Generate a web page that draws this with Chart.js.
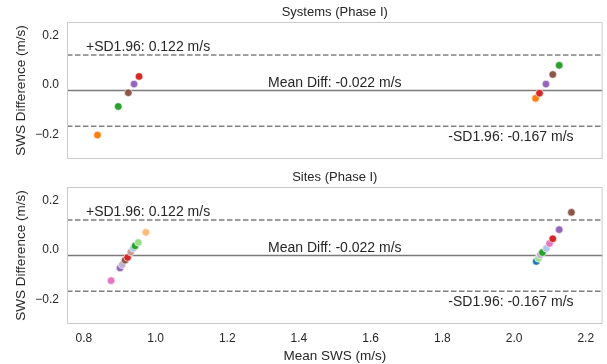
<!DOCTYPE html>
<html>
<head>
<meta charset="utf-8">
<script src="https://cdn.jsdelivr.net/npm/chart.js@4.4.1/dist/chart.umd.min.js"></script>
<style>
  html, body { margin: 0; padding: 0; background: #fff; }
  #wrap { position: relative; width: 607px; height: 364px; }
  .box { position: absolute; left: 0; width: 607px; }
  #topBox { top: 0; height: 165px; }
  #botBox { top: 165px; height: 199px; }
</style>
</head>
<body>
<div id="wrap">
  <div class="box" id="topBox"><canvas id="sysChart"></canvas></div>
  <div class="box" id="botBox"><canvas id="siteChart"></canvas></div>
</div>
<script>
// Systems (Phase I): mean SWS vs difference, one colour per system
const sysMeanSws = [0.838, 0.896, 0.924, 0.940, 0.954, 2.060, 2.071, 2.089, 2.108, 2.126];
const sysDiff = [-0.203, -0.087, -0.031, 0.004, 0.035, -0.054, -0.033, 0.004, 0.043, 0.080];
const sysColors = ['#ff7f0e', '#2ca02c', '#8c564b', '#9467bd', '#d62728',
                   '#ff7f0e', '#d62728', '#9467bd', '#8c564b', '#2ca02c'];

// Sites (Phase I)
const siteMeanSws = [0.876, 0.901, 0.907, 0.915, 0.922, 0.931, 0.938, 0.943, 0.952, 0.973,
                     2.062, 2.068, 2.073, 2.079, 2.090, 2.099, 2.108, 2.126, 2.160];
const siteDiff = [-0.124, -0.073, -0.060, -0.041, -0.030, -0.008, 0.007, 0.017, 0.031, 0.072,
                  -0.046, -0.034, -0.020, -0.010, 0.007, 0.027, 0.046, 0.083, 0.153];
const siteColors = ['#e377c2', '#9467bd', '#c5b0d5', '#8c564b', '#d62728', '#c49c94', '#aec7e8', '#2ca02c', '#98df8a', '#ffbb78',
                    '#1f77b4', '#98df8a', '#c5b0d5', '#2ca02c', '#aec7e8', '#e377c2', '#d62728', '#9467bd', '#8c564b'];

// Bland-Altman limits (same for both panels)
const meanDiff = -0.022;
const upperLoA = 0.122;
const lowerLoA = -0.167;

const xTicks = [0.8, 1.0, 1.2, 1.4, 1.6, 1.8, 2.0, 2.2];
const yTicks = [-0.2, 0.0, 0.2];

const FONT = "'Liberation Sans', Arial, sans-serif";
const TEXT = '#262626';

function toXY(xs, ys) {
  return xs.map((x, i) => ({ x: x, y: ys[i] }));
}

function fmtTick(v) {
  const s = Math.abs(v).toFixed(1);
  return v < -1e-9 ? '\u2212' + s : s;
}

// Draws the frame, the mean / limit lines, their labels and the panel title
const blandAltman = {
  id: 'blandAltman',
  beforeDatasetsDraw(chart, args, opts) {
    const { ctx, chartArea: a, scales: { y } } = chart;
    ctx.save();
    ctx.strokeStyle = '#808080';
    ctx.lineWidth = 1.5;
    [upperLoA, lowerLoA].forEach(v => {
      const py = y.getPixelForValue(v);
      ctx.setLineDash([5.5, 2.5]);
      ctx.beginPath();
      ctx.moveTo(a.left, py);
      ctx.lineTo(a.right, py);
      ctx.stroke();
    });
    ctx.setLineDash([]);
    ctx.strokeStyle = '#7a7a7a';
    const pm = y.getPixelForValue(meanDiff);
    ctx.beginPath();
    ctx.moveTo(a.left, pm);
    ctx.lineTo(a.right, pm);
    ctx.stroke();

    ctx.fillStyle = TEXT;
    ctx.font = '14px ' + FONT;
    ctx.textBaseline = 'alphabetic';
    ctx.textAlign = 'left';
    ctx.fillText('+SD1.96: ' + upperLoA.toFixed(3) + ' m/s', a.left + 19, y.getPixelForValue(upperLoA) - 4);
    ctx.textAlign = 'center';
    ctx.fillText('Mean Diff: ' + meanDiff.toFixed(3) + ' m/s', (a.left + a.right) / 2, pm - 4);
    ctx.textAlign = 'right';
    ctx.textBaseline = 'top';
    ctx.fillText('-SD1.96: ' + lowerLoA.toFixed(3) + ' m/s', a.right - 29, y.getPixelForValue(lowerLoA) + 3.5);
    ctx.restore();
  },
  afterDraw(chart, args, opts) {
    const { ctx, chartArea: a } = chart;
    ctx.save();
    ctx.strokeStyle = '#cccccc';
    ctx.lineWidth = 1;
    ctx.strokeRect(a.left + 0.5, a.top + 0.5, a.right - a.left - 1, a.bottom - a.top - 1);
    ctx.fillStyle = TEXT;
    ctx.font = '13px ' + FONT;
    ctx.textAlign = 'center';
    ctx.textBaseline = 'middle';
    ctx.fillText(opts.title, (a.left + a.right) / 2, a.top - 10);
    ctx.restore();
  }
};

function makePanel(canvasId, title, xs, ys, colors, showX) {
  return new Chart(document.getElementById(canvasId), {
    type: 'scatter',
    data: {
      datasets: [{
        data: toXY(xs, ys),
        pointBackgroundColor: colors,
        pointBorderColor: '#ffffff',
        pointBorderWidth: 0.6,
        pointRadius: 3.8,
        pointHoverRadius: 3.8
      }]
    },
    options: {
      responsive: true,
      maintainAspectRatio: false,
      animation: false,
      layout: { padding: { top: 22, right: 4, bottom: showX ? 0 : 6, left: 0 } },
      plugins: {
        legend: { display: false },
        tooltip: { enabled: false },
        blandAltman: { title: title }
      },
      scales: {
        x: {
          type: 'linear',
          display: showX,
          min: 0.753,
          max: 2.247,
          afterBuildTicks: s => { s.ticks = xTicks.map(v => ({ value: v })); },
          afterFit: s => { s.height = showX ? 40 : 0; s.paddingLeft = 0; s.paddingRight = 0; },
          grid: { display: false, drawTicks: false },
          border: { display: false },
          ticks: {
            padding: 7,
            color: TEXT,
            font: { family: FONT, size: 12 },
            maxRotation: 0,
            callback: v => v.toFixed(1)
          },
          title: {
            display: true,
            text: 'Mean SWS (m/s)',
            color: TEXT,
            font: { family: FONT, size: 13.5 },
            padding: { top: 2, bottom: 0 }
          }
        },
        y: {
          type: 'linear',
          min: -0.300,
          max: 0.256,
          afterBuildTicks: s => { s.ticks = yTicks.map(v => ({ value: v })); },
          afterFit: s => { s.width = 67; s.paddingTop = 0; s.paddingBottom = 0; },
          grid: { display: false, drawTicks: false },
          border: { display: false },
          ticks: {
            padding: 8,
            color: TEXT,
            font: { family: FONT, size: 12 },
            callback: v => fmtTick(v)
          },
          title: {
            display: true,
            text: 'SWS Difference (m/s)',
            color: TEXT,
            font: { family: FONT, size: 13.5 },
            padding: { top: 13, bottom: 0 }
          }
        }
      }
    },
    plugins: [blandAltman]
  });
}

makePanel('sysChart', 'Systems (Phase I)', sysMeanSws, sysDiff, sysColors, false);
makePanel('siteChart', 'Sites (Phase I)', siteMeanSws, siteDiff, siteColors, true);
</script>
</body>
</html>
